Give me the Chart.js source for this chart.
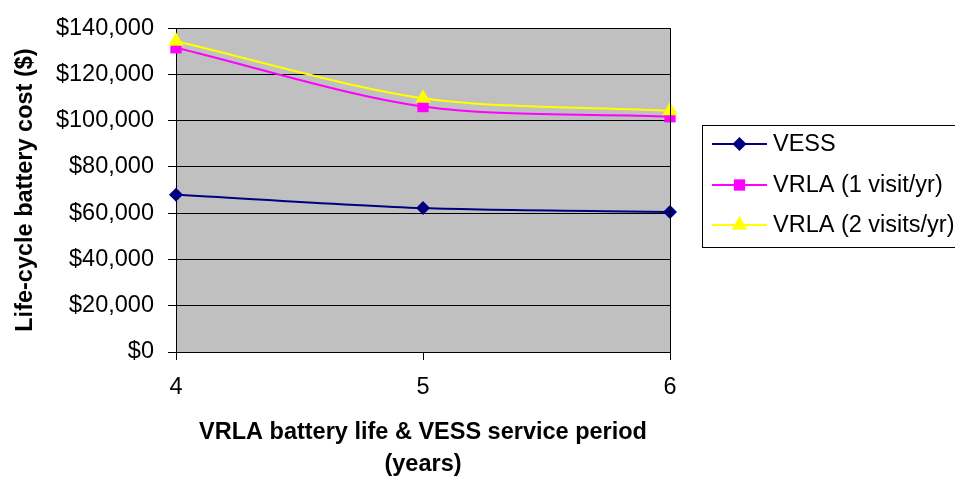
<!DOCTYPE html>
<html>
<head>
<meta charset="utf-8">
<script src="https://cdn.jsdelivr.net/npm/chart.js@4/dist/chart.umd.min.js"></script>
<style>
  html, body { margin: 0; padding: 0; background: #ffffff; }
  #wrap { width: 955px; height: 477px; position: relative; }
</style>
</head>
<body>
<div id="wrap"><canvas id="c" width="955" height="477"></canvas></div>
<script>
const years = ['4', '5', '6'];
const vess = [68000, 62200, 60500];
const vrla1 = [131500, 106100, 101700];
const vrla2 = [134300, 109700, 104300];
const seriesNames = ['VESS', 'VRLA (1 visit/yr)', 'VRLA (2 visits/yr)'];
const yTicks = [0, 20000, 40000, 60000, 80000, 100000, 120000, 140000];

const FONT = '"Liberation Sans", Arial, sans-serif';
const FS = 23.5;

function drawMarker(ctx, style, x, y, r, color) {
  ctx.save();
  ctx.fillStyle = color;
  ctx.beginPath();
  if (style === 'rectRot') {
    ctx.moveTo(x - r, y); ctx.lineTo(x, y - r); ctx.lineTo(x + r, y); ctx.lineTo(x, y + r);
  } else if (style === 'rect') {
    const s = r * Math.SQRT1_2;
    ctx.rect(x - s, y - s, 2 * s, 2 * s);
  } else {
    ctx.moveTo(x, y - r); ctx.lineTo(x + r * Math.sqrt(3) / 2, y + r / 2); ctx.lineTo(x - r * Math.sqrt(3) / 2, y + r / 2);
  }
  ctx.closePath();
  ctx.fill();
  ctx.restore();
}

const styles = [
  { color: '#000080', point: 'rectRot', r: 7 },
  { color: '#FF00FF', point: 'rect', r: 8 },
  { color: '#FFFF00', point: 'triangle', r: 9 }
];

const bgPlugin = {
  id: 'bg',
  beforeDraw(chart) {
    const a = chart.chartArea, ctx = chart.ctx;
    ctx.save();
    ctx.fillStyle = '#ffffff';
    ctx.fillRect(0, 0, chart.width, chart.height);
    ctx.fillStyle = '#C0C0C0';
    ctx.fillRect(a.left, a.top, a.right - a.left, a.bottom - a.top);
    ctx.restore();
  },
  afterDraw(chart) {
    const a = chart.chartArea, ctx = chart.ctx;
    ctx.save();
    ctx.strokeStyle = '#000000';
    ctx.lineWidth = 1;
    ctx.beginPath();
    ctx.moveTo(Math.round(a.right) + 0.5, a.top);
    ctx.lineTo(Math.round(a.right) + 0.5, a.bottom);
    ctx.stroke();
    // legend
    const bx = 702.5, by = 125.5, bw = 270, bh = 122;
    ctx.strokeRect(bx, by, bw, bh);
    const rows = [144, 185, 225];
    ctx.font = FS + 'px ' + FONT;
    ctx.textBaseline = 'middle';
    ctx.textAlign = 'left';
    for (let i = 0; i < 3; i++) {
      const s = styles[i], y = rows[i];
      ctx.strokeStyle = s.color;
      ctx.lineWidth = 2;
      ctx.beginPath();
      ctx.moveTo(712, y); ctx.lineTo(767, y);
      ctx.stroke();
      drawMarker(ctx, s.point, 739.5, y, s.r, s.color);
      ctx.fillStyle = '#000000';
      ctx.fillText(seriesNames[i], 773, y + 1);
    }
    ctx.restore();
  }
};

const values = [vess, vrla1, vrla2];
const datasets = values.map((v, i) => ({
  label: seriesNames[i],
  data: v,
  borderColor: styles[i].color,
  backgroundColor: styles[i].color,
  pointBackgroundColor: styles[i].color,
  pointBorderColor: styles[i].color,
  pointBorderWidth: 0,
  pointStyle: styles[i].point,
  pointRadius: styles[i].r,
  borderWidth: 2,
  tension: 0.3,
  fill: false,
  order: 2 - i
}));

new Chart(document.getElementById('c'), {
  type: 'line',
  data: { labels: years, datasets },
  plugins: [bgPlugin],
  options: {
    responsive: false,
    animation: false,
    devicePixelRatio: 1,
    layout: { padding: { top: 22, right: 285, bottom: 0, left: 0 } },
    plugins: { legend: { display: false }, tooltip: { enabled: false } },
    scales: {
      x: {
        type: 'category',
        offset: false,
        afterFit(scale) { scale.height = 125; },
        grid: { drawOnChartArea: false, color: '#000000', tickLength: 8, tickColor: '#000000' },
        border: { color: '#000000', width: 1 },
        ticks: { color: '#000000', font: { family: FONT, size: FS }, padding: 13, maxRotation: 0 },
        title: {
          display: true,
          text: ['VRLA battery life & VESS service period', '(years)'],
          color: '#000000',
          font: { family: FONT, size: FS, weight: 'bold', lineHeight: '32px' },
          padding: { top: 0, bottom: -4 }
        }
      },
      y: {
        min: 0,
        max: 140000,
        afterFit(scale) { scale.width = 176; },
        afterBuildTicks(scale) { scale.ticks = yTicks.map(v => ({ value: v })); },
        grid: { color: '#000000', tickLength: 8, tickColor: '#000000' },
        border: { color: '#000000', width: 1 },
        ticks: {
          color: '#000000',
          font: { family: FONT, size: FS },
          padding: 14,
          callback: v => '$' + Number(v).toLocaleString('en-US')
        },
        title: {
          display: true,
          text: 'Life-cycle battery cost ($)',
          color: '#000000',
          font: { family: FONT, size: FS, weight: 'bold' },
          padding: { top: 11, bottom: 0 }
        }
      }
    }
  }
});
</script>
</body>
</html>
